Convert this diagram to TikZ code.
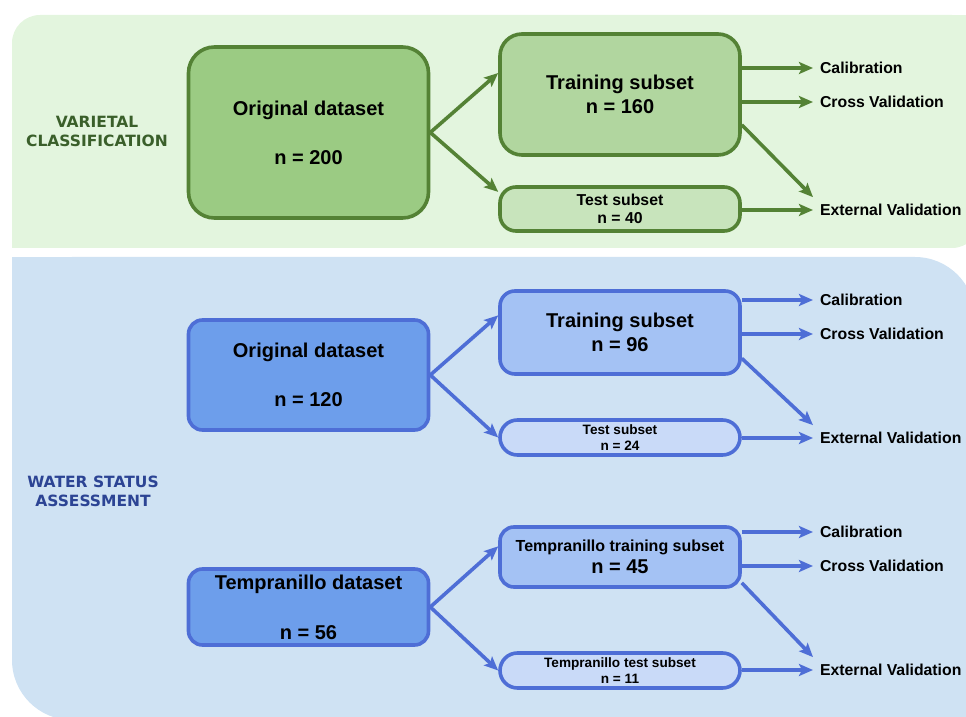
\documentclass[tikz,border=0pt]{standalone}
\usepackage{fontspec}
\setmainfont{Liberation Sans}
\newfontfamily\sidefont{DejaVu Sans}
\usetikzlibrary{arrows.meta,calc}
\definecolor{gpanel}{HTML}{E3F5DE}
\definecolor{gline}{HTML}{548235}
\definecolor{gorig}{HTML}{9BCB83}
\definecolor{gtrain}{HTML}{B1D69F}
\definecolor{gtest}{HTML}{C8E4BC}
\definecolor{gtext}{HTML}{3A5F2A}
\definecolor{bpanel}{HTML}{CFE2F3}
\definecolor{bline}{HTML}{4E6ED6}
\definecolor{borig}{HTML}{6D9EEB}
\definecolor{btrain}{HTML}{A4C2F4}
\definecolor{btest}{HTML}{C9DAF8}
\definecolor{btext}{HTML}{2C4494}
\tikzset{
    block/.style = {draw, rectangle, line width=1.8pt,
        minimum width=120pt, inner sep=0pt, align=center,
        font=\bfseries\fontsize{10}{12}\selectfont},
    gblock/.style = {block, draw=gline},
    bblock/.style = {block, draw=bline},
    smalltext/.style = {font=\bfseries\fontsize{7.9}{9}\selectfont},
    tinytext/.style = {font=\bfseries\fontsize{6.8}{7.6}\selectfont},
    output/.style = {anchor=west, font=\bfseries\fontsize{7.9}{9.5}\selectfont},
    arrow/.style = {draw, -{Stealth[length=7pt,width=6pt,inset=1.5pt]}, line width=1.8pt},
    garrow/.style = {arrow, gline},
    barrow/.style = {arrow, bline},
    sidelabel/.style = {align=center, font=\sidefont\bfseries\fontsize{7.75}{9.5}\selectfont}
}
\begin{document}
\begin{tikzpicture}[x=0.5pt, y=-0.5pt]
    \clip (0,0) rectangle (966,717);
    % panels
    \fill[gpanel, rounded corners=14pt] (12,15) rectangle (980,248);
    \fill[gpanel] (12,200) rectangle (100,248);
    \fill[gpanel] (900,15) rectangle (980,100);
    \fill[bpanel, rounded corners=30pt] (12,257) rectangle (975,720);
    \fill[bpanel] (12,257) rectangle (100,350);
    \fill[bpanel] (900,650) rectangle (975,720);

    % varietal classification
    \node [sidelabel, gtext] (var) at (97,131) {VARIETAL\\CLASSIFICATION};
    \node [gblock, fill=gorig, rounded corners=13pt, minimum height=85.5pt] (orig1) at (308.5,132.5) {Original dataset\\[12.5pt]n = 200};
    \node [gblock, fill=gtrain, rounded corners=11pt, minimum height=60.5pt] (train1) at (620,94.5) {Training subset\\n = 160};
    \node [gblock, smalltext, fill=gtest, rounded corners=8pt, minimum height=22pt] (test1) at (620,209) {Test subset\\n = 40};
    \node [output] (cal1) at (813,68) {Calibration};
    \node [output] (cv1) at (813,102) {Cross Validation};
    \node [output] (ext1) at (813,210) {External Validation};
    \draw [garrow] (orig1.east) -- (train1.170);
    \draw [garrow] (orig1.east) -- (test1.172);
    \draw [garrow] (train1.east |- cal1.west) -- (cal1.west);
    \draw [garrow] (train1.east |- cv1.west) -- (cv1.west);
    \draw [garrow] (train1.-14) -- (ext1.north west);
    \draw [garrow] (test1.east |- ext1.west) -- (ext1.west);

    % water status assessment
    \node [sidelabel, btext] (wsa) at (93,491) {WATER STATUS\\ASSESSMENT};
    \node [bblock, fill=borig, rounded corners=7pt, minimum height=55pt] (orig2) at (308.5,375) {Original dataset\\[12.5pt]n = 120};
    \node [bblock, fill=btrain, rounded corners=7.5pt, minimum height=41.5pt] (train2) at (620,332.5) {Training subset\\n = 96};
    \node [bblock, tinytext, fill=btest, rounded corners=8.75pt, minimum height=17.5pt] (test2) at (620,437.5) {Test subset\\n = 24};
    \node [output] (cal2) at (813,300) {Calibration};
    \node [output] (cv2) at (813,334) {Cross Validation};
    \node [output] (ext2) at (813,438) {External Validation};
    \draw [barrow] (orig2.east) -- (train2.172);
    \draw [barrow] (orig2.east) -- (test2.west);
    \draw [barrow] (train2.east |- cal2.west) -- (cal2.west);
    \draw [barrow] (train2.east |- cv2.west) -- (cv2.west);
    \draw [barrow] (train2.-12) -- (ext2.north west);
    \draw [barrow] (test2.east |- ext2.west) -- (ext2.west);

    \node [bblock, fill=borig, rounded corners=7pt, minimum height=38pt] (temp) at (308.5,607) {Tempranillo dataset\\[13pt]n = 56};
    \node [bblock, fill=btrain, rounded corners=7pt, minimum height=30pt] (temptrain) at (620,557) {{\fontsize{8}{9}\selectfont Tempranillo training subset}\\[-1pt]n = 45};
    \node [bblock, tinytext, fill=btest, rounded corners=8.75pt, minimum height=17.5pt] (temptest) at (620,670.5) {Tempranillo test subset\\n = 11};
    \node [output] (cal3) at (813,532) {Calibration};
    \node [output] (cv3) at (813,566) {Cross Validation};
    \node [output] (ext3) at (813,670) {External Validation};
    \draw [barrow] (temp.east) -- (temptrain.175);
    \draw [barrow] (temp.east) -- (temptest.west);
    \draw [barrow] (temptrain.east |- cal3.west) -- (cal3.west);
    \draw [barrow] (temptrain.east |- cv3.west) -- (cv3.west);
    \draw [barrow] (temptrain.-12) -- (ext3.north west);
    \draw [barrow] (temptest.east |- ext3.west) -- (ext3.west);
\end{tikzpicture}
\end{document}
